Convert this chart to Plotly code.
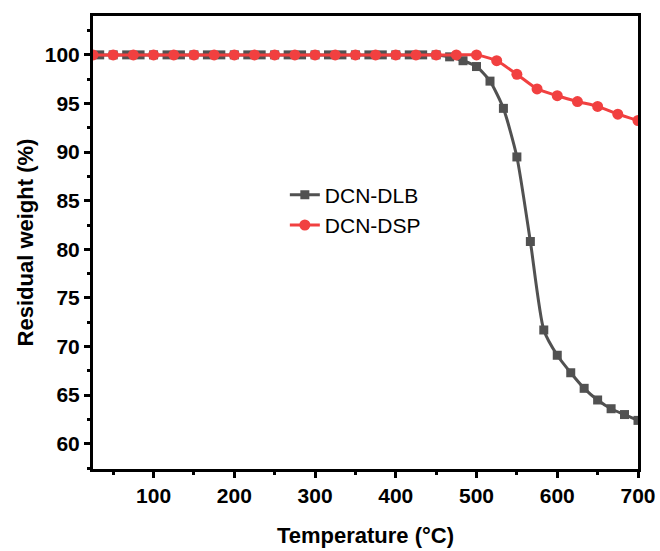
import plotly.graph_objects as go

# ---- data ----
dlb_temp = [33.3, 50, 66.7, 83.3, 100, 116.7, 133.3, 150, 166.7, 183.3, 200,
            216.7, 233.3, 250, 266.7, 283.3, 300, 316.7, 333.3, 350, 366.7,
            383.3, 400, 416.7, 433.3, 450, 466.7, 483.3, 500, 516.7, 533.3,
            550, 566.7, 583.3, 600, 616.7, 633.3, 650, 666.7, 683.3, 700]
dlb_weight = [100, 100, 100, 100, 100, 100, 100, 100, 100, 100, 100,
              100, 100, 100, 100, 100, 100, 100, 100, 100, 100,
              100, 100, 100, 100, 100, 99.8, 99.4, 98.8, 97.3, 94.5,
              89.5, 80.8, 71.7, 69.1, 67.3, 65.7, 64.5, 63.6, 63.0, 62.4]

dsp_temp = [25, 50, 75, 100, 125, 150, 175, 200, 225, 250, 275, 300, 325, 350,
            375, 400, 425, 450, 475, 500, 525, 550, 575, 600, 625, 650, 675, 700]
dsp_weight = [100, 100, 100, 100, 100, 100, 100, 100, 100, 100, 100, 100, 100, 100,
              100, 100, 100, 100, 100, 100, 99.4, 98.0, 96.5, 95.8, 95.2, 94.7, 93.9, 93.25]

x_ticks = [100, 200, 300, 400, 500, 600, 700]
y_ticks = [60, 65, 70, 75, 80, 85, 90, 95, 100]

GRAY = "#515151"
RED = "#F14040"
FONT = "Arial, Liberation Sans, sans-serif"

fig = go.Figure()
fig.add_trace(go.Scatter(
    x=dlb_temp, y=dlb_weight, name="DCN-DLB", mode="lines+markers",
    line=dict(color=GRAY, width=3, shape="spline", smoothing=0.6),
    marker=dict(symbol="square", size=9, color=GRAY),
))
fig.add_trace(go.Scatter(
    x=dsp_temp, y=dsp_weight, name="DCN-DSP", mode="lines+markers",
    line=dict(color=RED, width=3, shape="spline", smoothing=0.5),
    marker=dict(symbol="circle", size=11, color=RED),
))

axis_common = dict(
    showline=True, linecolor="black", linewidth=3, mirror=True,
    showgrid=False, zeroline=False, automargin=False,
    ticks="outside", ticklen=6, tickwidth=3, tickcolor="black",
    tickfont=dict(family=FONT, size=21, color="black", weight="bold"),
)

fig.update_layout(
    width=660, height=551,
    margin=dict(l=93, r=22, t=16, b=82),
    paper_bgcolor="white", plot_bgcolor="white",
    font=dict(family=FONT, color="black"),
    showlegend=True,
    legend=dict(
        x=0.352, y=0.65, xanchor="left", yanchor="top",
        font=dict(family=FONT, size=21, color="black"),
        bgcolor="rgba(0,0,0,0)", borderwidth=0,
        tracegroupgap=0, itemwidth=30,
    ),
    xaxis=dict(
        range=[25, 700], tickmode="array", tickvals=x_ticks,
        ticktext=[str(v) for v in x_ticks],
        minor=dict(ticks="outside", ticklen=3, tickwidth=3, tickcolor="black",
                   tickmode="array", tickvals=[50, 150, 250, 350, 450, 550, 650]),
        title=dict(text="Temperature (°C)", standoff=22,
                   font=dict(family=FONT, size=22, color="black", weight="bold")),
        **axis_common,
    ),
    yaxis=dict(
        range=[57.4, 104], tickmode="array", tickvals=y_ticks,
        ticktext=[str(v) for v in y_ticks],
        minor=dict(ticks="outside", ticklen=3, tickwidth=3, tickcolor="black",
                   tickmode="array",
                   tickvals=[57.5, 62.5, 67.5, 72.5, 77.5, 82.5, 87.5, 92.5, 97.5, 102.5]),
        title=dict(text="Residual weight (%)", standoff=6,
                   font=dict(family=FONT, size=22, color="black", weight="bold")),
        **axis_common,
    ),
)

fig.write_html("out.html")
